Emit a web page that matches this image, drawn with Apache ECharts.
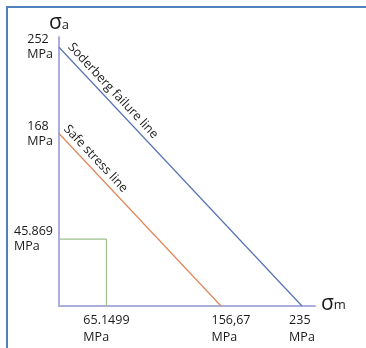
<!DOCTYPE html>
<html>
<head>
<meta charset="utf-8">
<script src="https://cdn.jsdelivr.net/npm/echarts@6/dist/echarts.min.js"></script>
<style>
  html, body { margin: 0; padding: 0; background: #fff; }
  #chart { width: 366px; height: 348px; }
</style>
</head>
<body>
<div id="chart"></div>
<script>
// 数据 (MPa)
const soderbergLine = [[0, 252], [235, 0]];
const safeLine = [[0, 168], [156.67, 0]];
// the green box corner as drawn in the picture
const boxCorner = [45.9, 65.1];
const boxLine = [[0, boxCorner[1]], boxCorner, [boxCorner[0], 0]];

const xTicks = [45.9, 156.67, 235];
const xTickText = ['65.1499', '156,67', '235'];
const yTicks = [65.1, 168, 252];
const yTickText = ['45.869', '168', '252'];

const lineNames = ['Soderberg failure line', 'Safe stress line'];

var myChart = echarts.init(document.getElementById('chart'));

const font = '"Open Sans", "Liberation Sans", sans-serif';
const txt = '#1a1a1a';

// 画一条带斜向文字的线
function slopedLine(name, data, color, dist) {
    return {
        name: name,
        type: 'line',
        data: data,
        symbol: 'none',
        lineStyle: { color: color, width: 1.2 },
        markLine: {
            silent: true,
            symbol: 'none',
            lineStyle: { color: 'rgba(0,0,0,0)', width: 1 },
            label: {
                show: true,
                position: 'insideStartTop',
                distance: dist,
                formatter: name,
                fontSize: 12.5,
                color: txt,
                fontFamily: font
            },
            data: [[{ coord: data[0] }, { coord: data[1] }]]
        }
    };
}

myChart.setOption({
    animation: false,
    graphic: [{
        type: 'rect',
        shape: { x: 7, y: 7, width: 420, height: 420 },
        style: { fill: null, stroke: '#4f81bd', lineWidth: 2 },
        z: -1
    }],
    grid: {
        left: 59, right: 51, top: 37, bottom: 42,
        containLabel: false,
        outerBoundsMode: 'none'
    },
    xAxis: {
        type: 'value',
        min: 0,
        max: 247.6,
        name: '{s|σ}{m|m}',
        nameLocation: 'end',
        nameGap: 6,
        nameTextStyle: {
            rich: {
                s: { fontSize: 21, color: txt, fontFamily: font, padding: [0, 0, 4, 0] },
                m: { fontSize: 13, color: txt, fontFamily: font, padding: [0, 0, 2, 0] }
            }
        },
        axisLine: { show: true, lineStyle: { color: '#a9aedb', width: 2 } },
        axisTick: { show: false },
        splitLine: { show: false },
        axisLabel: {
            customValues: xTicks,
            margin: 6,
            align: 'center',
            formatter: function (v) {
                const i = xTicks.indexOf(v);
                const st = i === 1 ? 'r' : 't';
                return '{' + st + '|' + xTickText[i] + '}\n{' + st + '|MPa}';
            },
            rich: {
                t: { fontSize: 12.5, lineHeight: 17, color: txt, fontFamily: font, align: 'left' },
                r: { fontSize: 12.5, lineHeight: 17, color: txt, fontFamily: font, align: 'left', padding: [0, 0, 0, 20] }
            }
        }
    },
    yAxis: {
        type: 'value',
        min: 0,
        max: 262,
        name: '{s|σ}{a|a}',
        nameLocation: 'end',
        nameGap: 3,
        nameTextStyle: {
            align: 'left',
            padding: [0, 0, 0, -10],
            rich: {
                s: { fontSize: 21, color: txt, fontFamily: font },
                a: { fontSize: 13, color: txt, fontFamily: font, padding: [4, 0, 0, 0] }
            }
        },
        axisLine: { show: true, lineStyle: { color: '#a9aedb', width: 2 } },
        axisTick: { show: false },
        splitLine: { show: false },
        axisLabel: {
            customValues: yTicks,
            margin: 6,
            formatter: function (v) {
                const i = yTicks.indexOf(v);
                return '{t|' + yTickText[i] + '}\n{t|MPa}';
            },
            rich: {
                t: { fontSize: 12.5, lineHeight: 15, color: txt, fontFamily: font, align: 'left' }
            }
        }
    },
    series: [
        slopedLine(lineNames[0], soderbergLine, '#5672b6', [6, 3]),
        slopedLine(lineNames[1], safeLine, '#e08556', [0, 3]),
        {
            type: 'line',
            data: boxLine,
            symbol: 'none',
            lineStyle: { color: '#9fc18f', width: 1.2 }
        }
    ]
});
</script>
</body>
</html>
